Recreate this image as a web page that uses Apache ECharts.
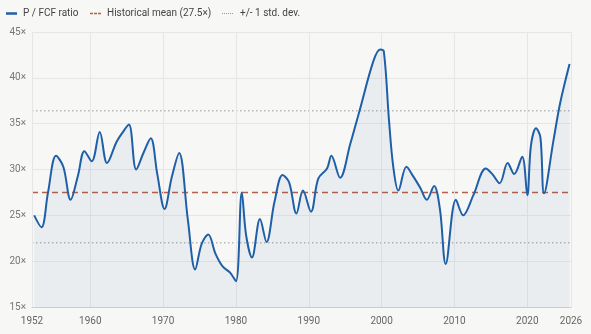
<!DOCTYPE html>
<html>
<head>
<meta charset="utf-8">
<script src="https://cdn.jsdelivr.net/npm/echarts@6/dist/echarts.min.js"></script>
<style>
html,body{margin:0;padding:0;background:#f7f7f5;}
#c{width:591px;height:334px;}
</style>
</head>
<body>
<div id="c"></div>
<script>
// P/FCF ratio readings [year, value]
const years = [1952.3,1953.3,1954.2,1955.3,1956.3,1957.3,1958.3,1959.2,1960.2,1961.3,1962.3,1963.6,1964.4,1965.3,1966.3,1967.3,1968.3,1969.2,1970.2,1971.2,1972.2,1973.4,1974.4,1975.3,1976.2,1977.2,1978.2,1979.2,1980.0,1980.8,1981.4,1982.2,1983.3,1984.2,1985.3,1986.4,1987.3,1988.3,1989.2,1990.3,1991.3,1992.5,1993.1,1994.3,1995.7,1997.0,1998.9,1999.8,2000.3,2001.0,2001.6,2002.3,2003.4,2004.3,2005.3,2006.2,2007.2,2008.0,2008.8,2010.2,2011.2,2012.6,2014.3,2015.2,2016.2,2017.3,2018.2,2019.3,2020.0,2020.5,2021.2,2021.8,2022.3,2023.6,2024.5,2025.8];
const ratio = [25.0,23.7,27.5,31.5,30.3,26.7,29.3,32.0,30.9,34.1,30.7,33.0,34.0,34.9,30.0,31.8,33.4,29.5,25.7,29.2,31.8,24.5,19.1,21.9,22.9,20.8,19.4,18.75,17.8,27.5,22.8,20.4,24.6,22.1,26.5,29.4,28.6,25.2,27.7,25.4,29.0,30.1,31.5,29.1,32.8,36.5,41.9,43.1,42.9,35.5,30.3,27.7,30.3,29.3,28.0,26.7,28.2,25.7,19.7,26.7,25.0,27.2,30.1,29.5,28.5,30.7,29.5,31.4,27.2,32.6,34.5,33.5,27.4,33.2,37.2,41.5];
const meanValue = 27.5;
const stdUpper = 36.4;
const stdLower = 22.0;
const xStart = 1952, xEnd = 2026;
const xTickLabels = [1952,1960,1970,1980,1990,2000,2010,2020,2026];
const legendNames = ['P / FCF ratio','Historical mean (27.5×)','+/- 1 std. dev.'];

const seriesData = years.map((y,i)=>[y, ratio[i]]);

const C_LINE = '#1f5fa8', C_MEAN = '#b5604a', C_STD = '#999999';
const font = 'Roboto, "Noto Sans", sans-serif';
const LY = 13.5;

function legendLine(x, color, width, dash){
  return {type:'line', silent:true, shape:{x1:x, y1:LY, x2:x+11, y2:LY},
    style:{stroke:color, lineWidth:width, lineDash:dash}};
}
function legendText(x, t){
  return {type:'text', silent:true, x:x, y:LY,
    style:{text:t, fill:'#444', font:'10px '+font, textVerticalAlign:'middle', verticalAlign:'middle'}};
}

const chart = echarts.init(document.getElementById('c'), null, {renderer:'canvas'});
chart.setOption({
  backgroundColor:'#f7f7f5',
  animation:false,
  textStyle:{fontFamily:font},
  graphic:[
    legendLine(6, C_LINE, 2.5, null), legendText(23, legendNames[0]),
    legendLine(90, C_MEAN, 1.5, [3,1]), legendText(107, legendNames[1]),
    legendLine(222, C_STD, 1, [1,1]), legendText(240, legendNames[2])
  ],
  grid:{left:32, right:20, top:32, bottom:27},
  xAxis:{
    type:'value', min:xStart, max:xEnd,
    axisLine:{show:true, lineStyle:{color:'#cccccc', width:1}},
    axisTick:{show:false},
    splitLine:{show:false},
    axisLabel:{customValues:xTickLabels, color:'#666', fontSize:10, margin:9, formatter:v=>String(v)}
  },
  yAxis:{
    type:'value', min:15, max:45, interval:5,
    axisLine:{show:false}, axisTick:{show:false},
    splitLine:{lineStyle:{color:'#e6e6e6', width:1}},
    axisLabel:{color:'#777', fontSize:10, margin:6, formatter:v=>v+'×'}
  },
  series:[
    {
      name:'grid', type:'line', data:[], z:1, silent:true,
      markLine:{silent:true, symbol:'none', label:{show:false},
        lineStyle:{color:'#e6e6e6', type:'solid', width:1},
        data:xTickLabels.map(v=>({xAxis:v}))}
    },
    {
      name:legendNames[0], type:'line', data:seriesData, smooth:0.35,
      symbol:'none', z:5,
      lineStyle:{color:C_LINE, width:2},
      itemStyle:{color:C_LINE},
      areaStyle:{color:'rgba(30,90,160,0.085)'}
    },
    {
      name:legendNames[1], type:'line', data:[[xStart,meanValue],[xEnd,meanValue]],
      symbol:'none', z:4,
      lineStyle:{color:C_MEAN, width:1.5, type:[6,4]},
      itemStyle:{color:C_MEAN}
    },
    {
      name:legendNames[2], type:'line', data:[[xStart,stdUpper],[xEnd,stdUpper]],
      symbol:'none', z:3,
      lineStyle:{color:C_STD, width:1, type:[1.5,2.5]},
      itemStyle:{color:C_STD}
    },
    {
      name:legendNames[2], type:'line', data:[[xStart,stdLower],[xEnd,stdLower]],
      symbol:'none', z:3,
      lineStyle:{color:C_STD, width:1, type:[1.5,2.5]},
      itemStyle:{color:C_STD}
    }
  ]
});
</script>
</body>
</html>
